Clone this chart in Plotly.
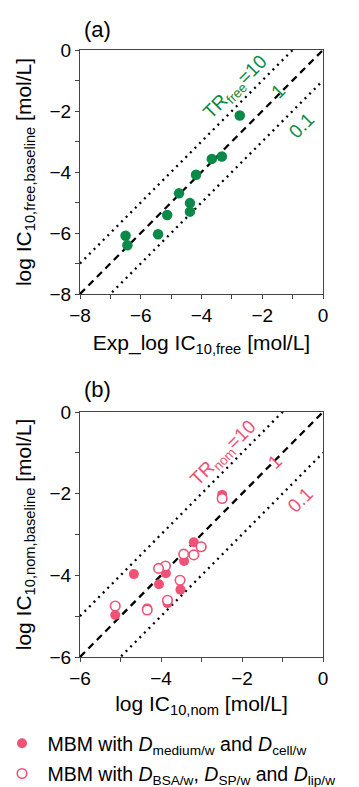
import plotly.graph_objects as go

# Panel (a): experimental vs baseline free IC10 (log mol/L)
a_exp_free = [-2.74, -3.66, -3.33, -4.18, -4.74, -4.38, -4.38, -5.13, -5.43, -6.50, -6.44]
a_base_free = [-2.15, -3.57, -3.49, -4.09, -4.70, -5.02, -5.30, -5.41, -6.04, -6.09, -6.40]

# Panel (b): nominal IC10 vs baseline nominal IC10
b_nom_filled = [-2.49, -3.19, -3.00, -3.43, -4.67, -3.88, -4.05, -3.52, -3.84, -4.34, -5.13]
b_base_filled = [-2.03, -3.19, -3.30, -3.65, -3.97, -3.95, -4.22, -4.35, -4.68, -4.81, -4.97]
b_nom_open = [-2.49, -3.01, -3.19, -3.44, -3.89, -4.06, -3.53, -3.84, -4.34, -5.13]
b_base_open = [-2.12, -3.30, -3.50, -3.48, -3.77, -3.83, -4.12, -4.61, -4.85, -4.75]

# Toxic-ratio reference lines
tr_values = [10, 1, 0.1]
tr_offsets = [1, 0, -1]  # log10(TR)
tr_dash = ["2px,4.5px", "7px,5px", "2px,4.5px"]

a_range = [-8, 0]
b_range = [-6, 0]

GREEN = "#0a8a48"
PINK = "#ef5275"
FONT = "Liberation Sans, Arial, sans-serif"

fig = go.Figure()

for off, dash in zip(tr_offsets, tr_dash):
    fig.add_trace(go.Scatter(x=a_range, y=[v + off for v in a_range], mode="lines",
                             line=dict(color="black", width=2.3, dash=dash),
                             xaxis="x", yaxis="y", showlegend=False, hoverinfo="skip"))
    fig.add_trace(go.Scatter(x=b_range, y=[v + off for v in b_range], mode="lines",
                             line=dict(color="black", width=2.3, dash=dash),
                             xaxis="x2", yaxis="y2", showlegend=False, hoverinfo="skip"))

fig.add_trace(go.Scatter(x=a_exp_free, y=a_base_free, mode="markers",
                         marker=dict(color=GREEN, size=10.5, line=dict(width=0)),
                         xaxis="x", yaxis="y", showlegend=False, cliponaxis=False))

fig.add_trace(go.Scatter(x=b_nom_filled, y=b_base_filled, mode="markers",
                         marker=dict(color=PINK, size=10, line=dict(width=0)),
                         xaxis="x2", yaxis="y2", cliponaxis=False,
                         name="\u00a0MBM with <i>D</i><sub>medium/w</sub> and <i>D</i><sub>cell/w</sub>",
                         legendgroup="g1"))
fig.add_trace(go.Scatter(x=b_nom_open, y=b_base_open, mode="markers",
                         marker=dict(color="white", size=9.5, line=dict(color=PINK, width=1.6)),
                         xaxis="x2", yaxis="y2", cliponaxis=False,
                         name="\u00a0MBM with <i>D</i><sub>BSA/w</sub>, <i>D</i><sub>SP/w</sub> and <i>D</i><sub>lip/w</sub>",
                         legendgroup="g2"))

H = 787.0
W = 359.0
ML, MR, MT, MB = 80, 36, 50, 130
PW = W - ML - MR   # 243
PH = H - MT - MB   # 607

def px_x(p):
    return (p - ML) / PW

def px_y(p):
    return (H - MB - p) / PH

ydom_a = [px_y(294), 1.0]
ydom_b = [0.0, px_y(412)]

axis_common = dict(
    showgrid=False, zeroline=False, showline=True, linecolor="#444", linewidth=1,
    mirror=True, ticks="outside", ticklen=4, tickcolor="#444", tickwidth=1,
    tickfont=dict(size=19, color="black", family=FONT), dtick=2,
    minor=dict(dtick=1, ticks="outside", ticklen=4, tickcolor="#444", tickwidth=1),
    fixedrange=True, automargin=False,
)

fig.update_layout(
    width=359, height=787,
    margin=dict(l=ML, r=MR, t=MT, b=MB, autoexpand=False),
    paper_bgcolor="white", plot_bgcolor="white",
    font=dict(family=FONT, color="black", size=19),
    xaxis=dict(domain=[0, 1], range=a_range, anchor="y",
               title=dict(text="Exp_log IC<sub>10,free</sub> [mol/L]", font=dict(size=21), standoff=10),
               **axis_common),
    yaxis=dict(domain=ydom_a, range=a_range, anchor="x",
               title=dict(text="log IC<sub>10,free,baseline</sub> [mol/L]", font=dict(size=21), standoff=12),
               **axis_common),
    xaxis2=dict(domain=[0, 1], range=b_range, anchor="y2",
                title=dict(text="log IC<sub>10,nom</sub> [mol/L]", font=dict(size=21), standoff=8),
                **axis_common),
    yaxis2=dict(domain=ydom_b, range=b_range, anchor="x2",
                title=dict(text="log IC<sub>10,nom,baseline</sub> [mol/L]", font=dict(size=21), standoff=12),
                **axis_common),
    legend=dict(x=px_x(2), y=px_y(724), xanchor="left", yanchor="top",
                itemwidth=30, font=dict(size=19.5, color="black"), tracegroupgap=2,
                bgcolor="rgba(0,0,0,0)"),
    showlegend=True,
)

ann = []
ann.append(dict(text="(a)", x=px_x(97), y=px_y(30), xref="paper", yref="paper",
                xanchor="center", yanchor="middle", showarrow=False, font=dict(size=22)))
ann.append(dict(text="(b)", x=px_x(97), y=px_y(389), xref="paper", yref="paper",
                xanchor="center", yanchor="middle", showarrow=False, font=dict(size=22)))

a_label_pos = [(-2.87, -1.25), (-1.45, -1.34), (-0.71, -2.46)]
b_label_pos = [(-2.46, -1.02), (-1.19, -1.20), (-0.58, -2.16)]
for i, tr in enumerate(tr_values):
    txt_a = "TR<sub>free</sub>=10" if tr == 10 else str(tr)
    txt_b = "TR<sub>nom</sub>=10" if tr == 10 else str(tr)
    ann.append(dict(text=txt_a, x=a_label_pos[i][0], y=a_label_pos[i][1], xref="x", yref="y",
                    showarrow=False, textangle=-45, font=dict(size=19, color=GREEN)))
    ann.append(dict(text=txt_b, x=b_label_pos[i][0], y=b_label_pos[i][1], xref="x2", yref="y2",
                    showarrow=False, textangle=-45, font=dict(size=19, color=PINK)))
fig.update_layout(annotations=ann)

fig.write_html("out.html")
